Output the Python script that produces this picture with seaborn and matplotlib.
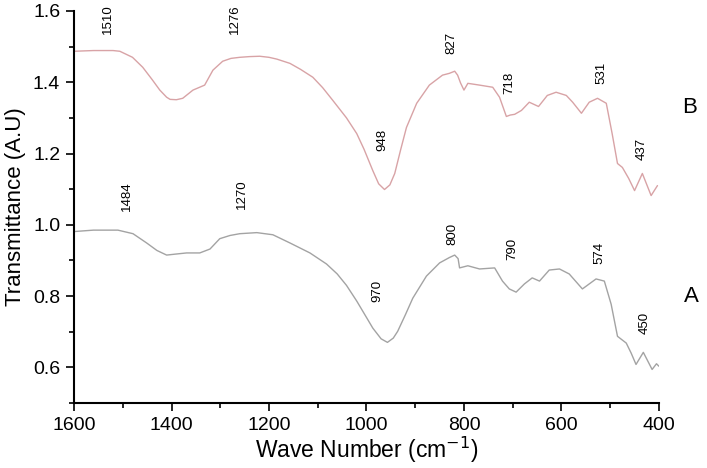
import matplotlib
matplotlib.use("Agg")
from matplotlib import pyplot as plt
from matplotlib.ticker import MultipleLocator
import pandas as pd
import seaborn as sns

# spectrum B (upper, pink)
wave_b = [1600, 1560, 1520, 1506, 1480, 1459, 1440, 1424, 1410, 1403, 1390, 1377, 1356,
          1332, 1315, 1295, 1278, 1260, 1240, 1219, 1200, 1184, 1157, 1135, 1110, 1090,
          1069, 1041, 1020, 1005, 987, 975, 963, 952, 942, 930, 918, 897, 871, 844, 830,
          819, 813, 807, 800, 792, 768, 741, 727, 713, 705, 696, 682, 666, 647, 629, 611,
          590, 577, 559, 543, 526, 508, 496, 485, 475, 462, 450, 434, 416, 410, 403]
trans_b = [1.487, 1.489, 1.489, 1.487, 1.470, 1.442, 1.408, 1.378, 1.358, 1.352, 1.351,
           1.355, 1.378, 1.392, 1.434, 1.459, 1.467, 1.470, 1.472, 1.473, 1.470, 1.465,
           1.453, 1.436, 1.414, 1.385, 1.349, 1.300, 1.256, 1.212, 1.152, 1.115, 1.099,
           1.112, 1.144, 1.210, 1.273, 1.341, 1.392, 1.420, 1.425, 1.431, 1.420, 1.398,
           1.378, 1.397, 1.392, 1.386, 1.358, 1.304, 1.308, 1.310, 1.321, 1.344, 1.332,
           1.363, 1.372, 1.363, 1.344, 1.313, 1.344, 1.355, 1.341, 1.256, 1.172, 1.161,
           1.130, 1.096, 1.144, 1.082, 1.095, 1.110]

# spectrum A (lower, gray)
wave_a = [1600, 1560, 1510, 1479, 1451, 1430, 1410, 1390, 1369, 1342, 1321, 1301, 1280,
          1260, 1225, 1192, 1157, 1116, 1082, 1060, 1041, 1020, 1000, 987, 970, 957, 945,
          936, 920, 905, 877, 850, 830, 819, 812, 809, 792, 768, 737, 721, 707, 693, 676,
          660, 645, 625, 604, 584, 557, 529, 512, 498, 485, 467, 457, 447, 432, 414, 405,
          400]
trans_a = [0.981, 0.985, 0.985, 0.975, 0.949, 0.928, 0.915, 0.918, 0.921, 0.921, 0.932,
           0.961, 0.970, 0.975, 0.978, 0.972, 0.949, 0.921, 0.890, 0.862, 0.830, 0.786,
           0.740, 0.710, 0.680, 0.670, 0.682, 0.701, 0.748, 0.794, 0.856, 0.893, 0.908,
           0.915, 0.905, 0.879, 0.885, 0.876, 0.879, 0.842, 0.820, 0.811, 0.834, 0.851,
           0.842, 0.873, 0.876, 0.862, 0.820, 0.848, 0.842, 0.777, 0.687, 0.668, 0.640,
           0.608, 0.642, 0.594, 0.610, 0.603]

peak_labels_b = ["1510", "1276", "827", "718", "531", "948", "437"]
peak_pos_b = [(1530, 1.578), (1270, 1.578), (826, 1.510), (707, 1.397), (518, 1.425),
              (967, 1.237), (436, 1.214)]
peak_labels_a = ["1484", "1270", "800", "790", "574", "970", "450"]
peak_pos_a = [(1491, 1.079), (1256, 1.087), (823, 0.975), (700, 0.932), (522, 0.921),
              (977, 0.814), (430, 0.724)]

sns.set_style("ticks")
plt.rcParams["font.family"] = ["Liberation Sans", "DejaVu Sans"]
for key in ["text.color", "axes.labelcolor", "xtick.color", "ytick.color", "axes.edgecolor"]:
    plt.rcParams[key] = "black"

fig = plt.figure(figsize=(7.07, 4.68), dpi=100)
ax = fig.add_axes([0.1047, 0.139, 0.8273, 0.8375])

df_b = pd.DataFrame({"wave": wave_b, "t": trans_b})
df_a = pd.DataFrame({"wave": wave_a, "t": trans_a})
sns.lineplot(data=df_b, x="wave", y="t", ax=ax, color="#d8a3a6", linewidth=1.0)
sns.lineplot(data=df_a, x="wave", y="t", ax=ax, color="#a3a3a3", linewidth=1.0)

for lab, (x, y) in zip(peak_labels_b + peak_labels_a, peak_pos_b + peak_pos_a):
    ax.text(x, y, lab, rotation=90, ha="center", va="center", fontsize=9.5, clip_on=False)

ax.text(338, 1.330, "B", ha="center", va="center", fontsize=16, clip_on=False)
ax.text(334, 0.800, "A", ha="center", va="center", fontsize=16, clip_on=False)

ax.set_xlim(1600, 400)
ax.set_ylim(0.5, 1.6)
ax.xaxis.set_major_locator(MultipleLocator(200))
ax.xaxis.set_minor_locator(MultipleLocator(100))
ax.yaxis.set_minor_locator(MultipleLocator(0.1))
ax.set_yticks([0.6, 0.8, 1.0, 1.2, 1.4, 1.6])
ax.tick_params(which="major", length=6, width=1.2, labelsize=14, direction="out", pad=4)
ax.tick_params(which="minor", length=3.5, width=1.2, direction="out")
for s in ["left", "bottom"]:
    ax.spines[s].set_linewidth(1.5)
sns.despine(ax=ax)

ax.set_xlabel("Wave Number (cm$^{-1}$)", fontsize=16.5, labelpad=1)
ax.set_ylabel("Transmittance (A.U)", fontsize=16, labelpad=5)

fig.savefig("out.png", dpi=100)
